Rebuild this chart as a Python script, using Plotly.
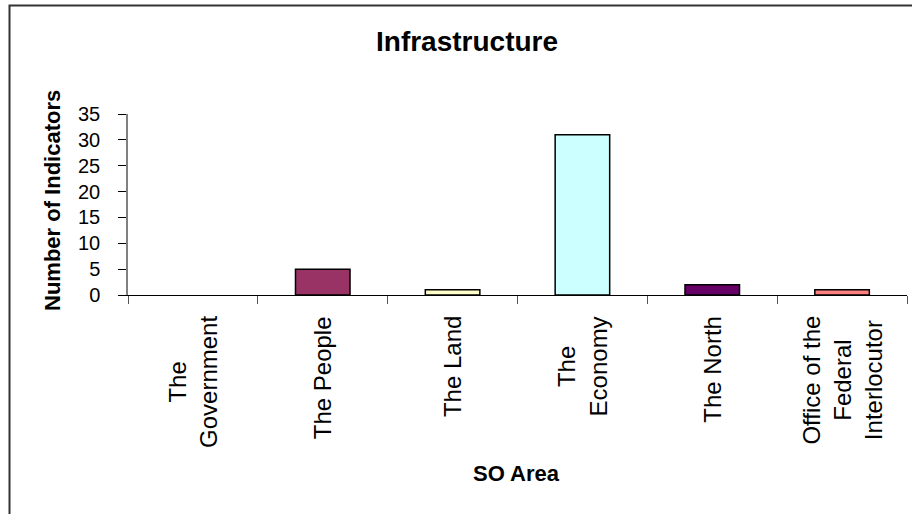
import plotly.graph_objects as go

categories = ["The<br>Government", "The People", "The Land", "The<br>Economy",
              "The North", "Office of the<br>Federal<br>Interlocutor"]
values = [0, 5, 1, 31, 2, 1]
colors = ["#9999FF", "#993366", "#FFFFCC", "#CCFFFF", "#660066", "#FF8080"]
yticks = [0, 5, 10, 15, 20, 25, 30, 35]

W, H = 912, 514
L, R, T, B = 128, 5, 114, 219
pw, ph = W - L - R, H - T - B

def px_x(px):
    return (px - L) / pw

def px_y(py):
    return (H - B - py) / ph

FONT = "Liberation Sans, Arial, sans-serif"

fig = go.Figure()
fig.add_trace(go.Bar(
    x=list(range(len(categories))), y=values,
    marker=dict(color=colors,
                line=dict(color="black", width=[0 if v == 0 else 1.5 for v in values])),
    width=0.42,
))

annotations = [
    dict(text="<b>Infrastructure</b>", xref="paper", yref="paper",
         x=px_x(467), y=px_y(41), xanchor="center", yanchor="middle",
         showarrow=False, font=dict(family=FONT, size=28, color="black")),
    dict(text="<b>Number of Indicators</b>", xref="paper", yref="paper",
         x=px_x(52), y=px_y(201), xanchor="center", yanchor="middle",
         showarrow=False, textangle=-90,
         font=dict(family=FONT, size=22, color="black")),
    dict(text="<b>SO Area</b>", xref="paper", yref="paper",
         x=px_x(516), y=px_y(473), xanchor="center", yanchor="middle",
         showarrow=False, font=dict(family=FONT, size=22, color="black")),
]
for i, c in enumerate(categories):
    annotations.append(dict(text=c, x=i, xref="x", yref="paper", y=px_y(314),
                            yanchor="top", xanchor="center", showarrow=False,
                            textangle=-90, align="center",
                            font=dict(family=FONT, size=24, color="black")))

fig.update_layout(
    width=W, height=H,
    margin=dict(l=L, r=R, t=T, b=B),
    paper_bgcolor="white", plot_bgcolor="white",
    showlegend=False,
    annotations=annotations,
    shapes=[dict(type="rect", xref="paper", yref="paper",
                 x0=px_x(9.5), y0=px_y(600), x1=px_x(1000), y1=px_y(5.5),
                 line=dict(color="#333333", width=2), layer="below")],
    xaxis=dict(range=[-0.5, 5.5], tickmode="array",
               tickvals=[i - 0.5 for i in range(len(categories) + 1)],
               ticktext=[""] * (len(categories) + 1),
               showticklabels=False, ticks="outside", ticklen=8,
               tickcolor="#555555", showline=True, linecolor="black",
               linewidth=1, showgrid=False, zeroline=False, fixedrange=True),
    yaxis=dict(range=[0, 35], tickvals=yticks, ticks="outside", ticklen=8,
               tickcolor="black", showline=True, linecolor="#808080",
               linewidth=1.5, showgrid=False, zeroline=False,
               ticklabelstandoff=14,
               tickfont=dict(family=FONT, size=20, color="black")),
)

fig.write_html("out.html")
